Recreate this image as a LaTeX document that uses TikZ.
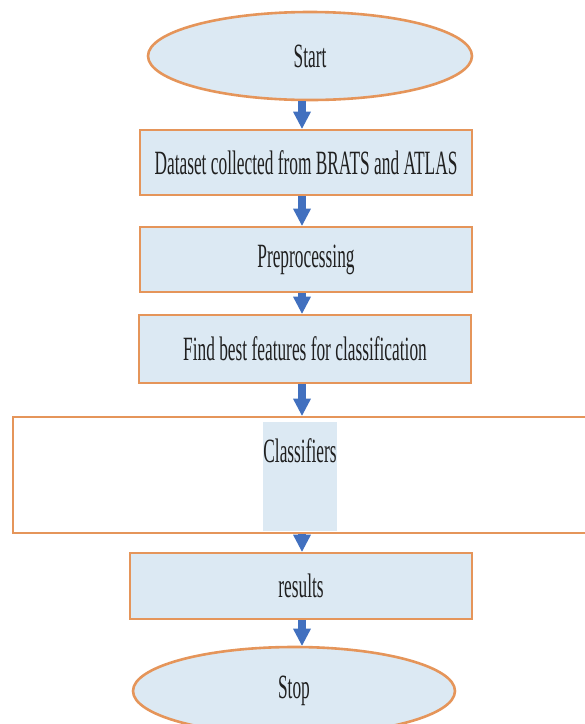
\documentclass[tikz,border=0pt]{standalone}
\usepackage{fontspec}
\setmainfont[FakeStretch=0.51]{Liberation Serif}
\usepackage{tikz}
\usetikzlibrary{arrows.meta,positioning,calc,shapes.geometric}
\definecolor{ink}     {HTML}{202020}
\definecolor{edge}    {HTML}{E5955A}
\definecolor{paleblue}{HTML}{DCE9F3}
\definecolor{flowblue}{HTML}{4170BF}

\begin{document}
\begin{tikzpicture}[x=1pt,y=-1pt,
  every node/.style={font=\fontsize{34}{40}\selectfont, text=ink},
  terminal/.style={ellipse, draw=edge, line width=2.6pt, fill=paleblue,
                   minimum width=324pt, minimum height=88pt, inner sep=0pt},
  stepbox/.style={rectangle, draw=edge, line width=2.6pt, fill=paleblue,
                  minimum width=332pt, minimum height=65pt, inner sep=0pt},
  flow/.style={draw=flowblue, line width=8pt,
               -{Triangle[width=18pt,length=17pt,line width=0pt]}}]
 \useasboundingbox (0,0) rectangle (585,724);
 \coordinate (axis) at (302,0);
 \node[terminal] (start) at (310,56) {Start};
 \node[stepbox] (dset) at (306,162.5) {Dataset collected from BRATS and ATLAS};
 \node[stepbox] (prep) at (306,259.5) {Preprocessing};
 \node[stepbox, minimum height=68pt] (feat) at (305,349) {Find best features for classification};
 \node[stepbox, fill=white, minimum width=600pt, minimum height=116pt] (clsf) at (313,475) {};
 \node[fill=paleblue, inner sep=0pt, text height=40pt, text depth=69pt, anchor=north]
   (cltxt) at (300,422) {Classifiers};
 \node[stepbox, minimum width=342pt, minimum height=66pt] (res) at (301,586) {results};
 \node[terminal, minimum width=322pt] (stop) at (294,691) {Stop};
 \foreach \a/\b in {start/dset, dset/prep, prep/feat, feat/clsf, clsf/res, res/stop}
   \draw[flow] (\a.south -| axis) -- (\b.north -| axis);
\end{tikzpicture}
\end{document}
